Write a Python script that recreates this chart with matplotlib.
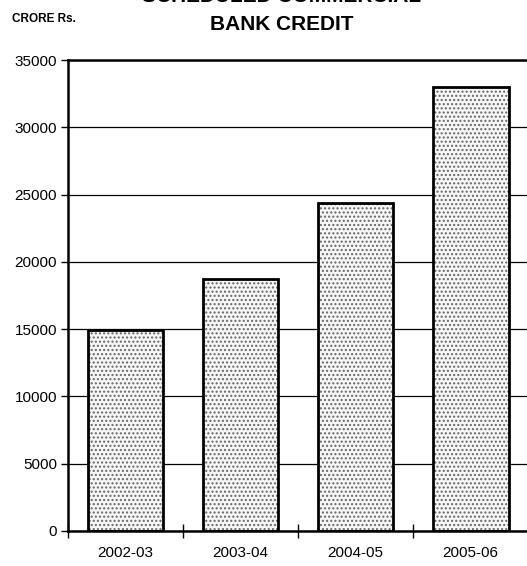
import matplotlib.pyplot as plt
import matplotlib

matplotlib.rc('font', family=["Liberation Sans", "DejaVu Sans"])

years = ["2002-03", "2003-04", "2004-05", "2005-06"]
credit = [14950, 18700, 24400, 33000]
y_ticks = [0, 5000, 10000, 15000, 20000, 25000, 30000, 35000]

fig = plt.figure(figsize=(5.27, 5.66), dpi=100)
ax = fig.add_axes([68 / 527, 35 / 566, 1 - 68 / 527 + 0.002, 471 / 566])

pos = list(range(len(years)))

# grid behind bars
ax.set_axisbelow(True)
ax.yaxis.grid(True, color='black', linewidth=0.9)

# dotted fill, then the black outline on top
ax.bar(pos, credit, width=0.66, color='#f6f6f6', edgecolor='#666666',
       hatch='....', linewidth=0, zorder=2)
ax.bar(pos, credit, width=0.66, fill=False, edgecolor='black',
       linewidth=2, zorder=3)

ax.set_xlim(-0.5, 3.5)
ax.set_ylim(0, 35000)
ax.set_yticks(y_ticks)
ax.tick_params(axis='y', labelsize=11, length=5, width=1, direction='out', pad=3)

ax.set_xticks(pos)
ax.set_xticklabels(years)
ax.tick_params(axis='x', which='major', length=0, labelsize=11, pad=11)
ax.set_xticks([-0.5, 0.5, 1.5, 2.5], minor=True)
ax.tick_params(axis='x', which='minor', length=10, width=1, direction='inout')

for s in ['left', 'bottom', 'top']:
    ax.spines[s].set_linewidth(1.8)
ax.spines['right'].set_visible(False)

fig.text(0.535, 1 - 24 / 566, "BANK CREDIT", ha='center',
         va='center', fontsize=15, fontweight='bold')
fig.text(0.535, 1 - 24 / 566 + 28 / 566, "SCHEDULED COMMERCIAL", ha='center',
         va='center', fontsize=15, fontweight='bold')
fig.text(12 / 527, 1 - 19 / 566, "CRORE Rs.", ha='left', va='center',
         fontsize=8.5, fontweight='bold')

fig.savefig('out.png', dpi=100)
